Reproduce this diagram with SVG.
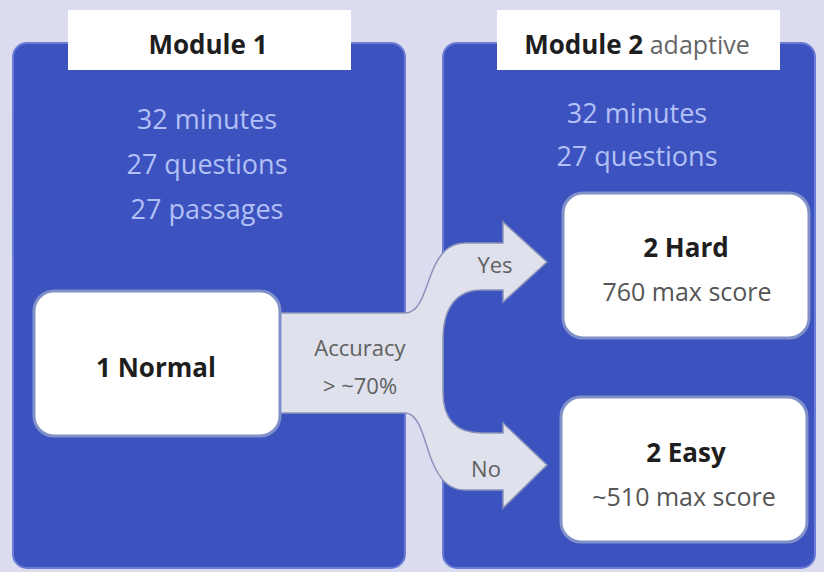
<svg xmlns="http://www.w3.org/2000/svg" width="824" height="572" viewBox="0 0 824 572">
<style>
.panel{fill:#3c52be;stroke:#6a7cd6;stroke-width:2}
.title{fill:#ffffff}
.box{fill:#ffffff;stroke:#8090c8;stroke-width:3}
.t{font-family:"Open Sans","Liberation Sans",sans-serif;text-anchor:middle}
.tb{font-weight:700;fill:#1e1e1e}
.info{fill:#b2c0f6;font-size:27px}
.sub{fill:#555555;font-size:25px}
.lab{fill:#606060;font-size:22px}
.arrow{fill:#dfe1ec;stroke:#8a92ba;stroke-width:1.5}
</style>
<rect x="0" y="0" width="824" height="572" fill="#dcdcf1"/>
<g id="module1">
<rect class="panel" x="13" y="43" width="392" height="525" rx="14"/>
<rect class="title" x="68" y="10" width="283" height="60"/>
<text class="t tb" x="208" y="54" font-size="26">Module 1</text>
<text class="t info" x="207" y="129">32 minutes</text>
<text class="t info" x="207" y="174">27 questions</text>
<text class="t info" x="207" y="219">27 passages</text>
</g>
<g id="module2">
<rect class="panel" x="443" y="43" width="372" height="525" rx="14"/>
<rect class="title" x="497" y="10" width="283" height="60"/>
<text class="t" x="637" y="54" font-size="26"><tspan class="tb">Module 2</tspan><tspan fill="#666666" font-size="25"> adaptive</tspan></text>
<text class="t info" x="637" y="123">32 minutes</text>
<text class="t info" x="637" y="166">27 questions</text>
</g>
<g id="connectors">
<path class="arrow" d="M 280,313 L 405,313 C 420,313 424,292 432,272 C 440,252 450,243 465,243 L 503,243 L 503,222 L 547,262 L 503,302 L 503,290 L 482,290 C 456,290 443,308 443,340 L 443,392 C 443,420 456,433 482,433 L 503,433 L 503,423 L 547,465 L 503,508 L 503,490 L 465,490 C 450,490 440,481 432,461 C 424,441 420,413 405,413 L 280,413 Z"/>
<text class="t lab" x="360" y="356">Accuracy</text>
<text class="t lab" x="360" y="394">&gt; ~70%</text>
<text class="t lab" x="495" y="273">Yes</text>
<text class="t lab" x="486" y="477">No</text>
</g>
<g id="normal">
<rect class="box" x="34" y="291" width="246" height="145" rx="20"/>
<text class="t tb" x="156" y="377" font-size="26">1 Normal</text>
</g>
<g id="hard">
<rect class="box" x="563" y="193" width="246" height="145" rx="20"/>
<text class="t tb" x="686" y="257" font-size="26">2 Hard</text>
<text class="t sub" x="687" y="301">760 max score</text>
</g>
<g id="easy">
<rect class="box" x="561" y="397" width="246" height="145" rx="20"/>
<text class="t tb" x="686" y="462" font-size="26">2 Easy</text>
<text class="t sub" x="684" y="506">~510 max score</text>
</g>
</svg>
